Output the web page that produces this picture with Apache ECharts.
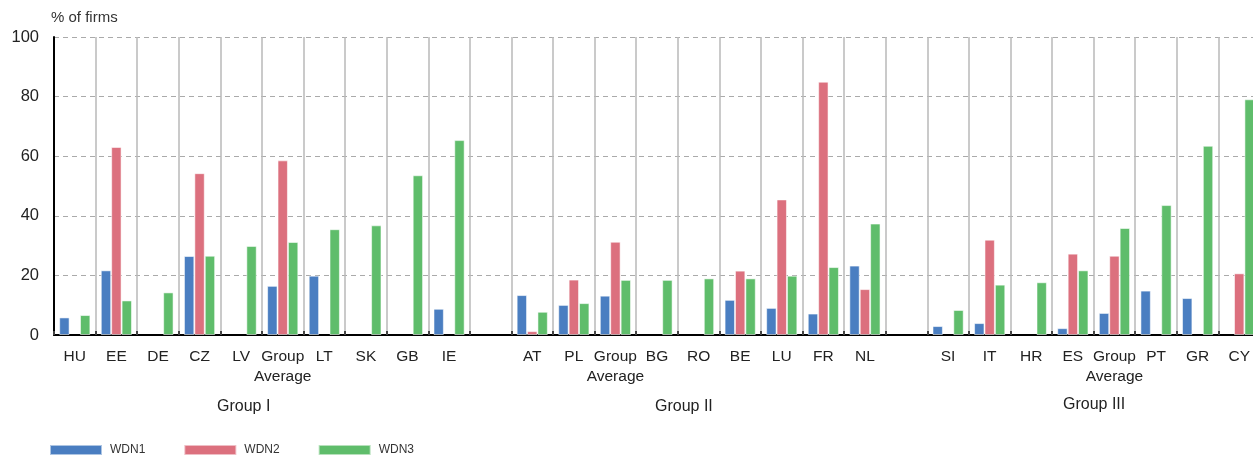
<!DOCTYPE html>
<html>
<head>
<meta charset="utf-8">
<script src="https://cdn.jsdelivr.net/npm/echarts@6/dist/echarts.min.js"></script>
<style>html,body{margin:0;padding:0;background:#fff}#c{width:1253px;height:455px}</style>
</head>
<body>
<div id="c"></div>
<script>
const categories = ['HU','EE','DE','CZ','LV','Group\nAverage','LT','SK','GB','IE','',
  'AT','PL','Group\nAverage','BG','RO','BE','LU','FR','NL','',
  'SI','IT','HR','ES','Group\nAverage','PT','GR','CY'];
const wdn1 = [5.9,21.7,null,26.5,null,16.5,19.9,null,null,8.8,null,
  13.4,10.1,13.2,null,null,11.8,9.1,7.2,23.3,null,
  3.0,4.0,null,2.3,7.4,14.9,12.4,null];
const wdn2 = [null,63.1,null,54.3,null,58.6,null,null,null,null,null,
  1.3,18.6,31.3,null,null,21.6,45.5,85.0,15.4,null,
  null,32.0,null,27.3,26.6,null,null,20.7];
const wdn3 = [6.7,11.6,14.3,26.6,29.9,31.2,35.5,36.8,53.6,65.4,null,
  7.8,10.7,18.5,18.5,19.0,19.0,19.9,22.8,37.4,null,
  8.4,16.9,17.7,21.7,35.9,43.6,63.5,79.1];
const seriesNames = ['WDN1','WDN2','WDN3'];
const groupLabels = ['Group I','Group II','Group III'];
const yTicks = {min:0, max:100, interval:20};

const colors = ['#4a7ec1','#dc707e','#5fbd6b'];
const font = 'Liberation Sans, Arial, sans-serif';
const chart = echarts.init(document.getElementById('c'));
const mkSeries = (name, data, i) => ({
  name, type:'bar', data, barWidth:10.4, barGap:'0%',
  itemStyle:{color:colors[i], borderColor:'rgba(255,255,255,0.55)', borderWidth:1},
  animation:false
});
chart.setOption({
  animation:false,
  color:colors,
  textStyle:{fontFamily:font},
  grid:{left:54, top:37, bottom:120, width:1206, containLabel:false, outerBoundsMode:'none'},
  legend:{
    left:44, top:439, itemWidth:52, itemHeight:10, itemGap:38,
    icon:'rect',
    textStyle:{fontSize:12, color:'#333', fontFamily:font, padding:[0,0,0,3]},
    data:seriesNames
  },
  xAxis:{
    type:'category', data:categories,
    axisLine:{lineStyle:{color:'#000', width:2}},
    axisTick:{show:true, inside:true, length:4, lineStyle:{color:'#444', width:2}},
    axisLabel:{interval:0, fontSize:15.5, color:'#222', margin:12, lineHeight:20, fontFamily:font},
    splitLine:{show:true, lineStyle:{color:'#b8b8b8', width:1.5}}
  },
  yAxis:{
    type:'value', min:yTicks.min, max:yTicks.max, interval:yTicks.interval,
    name:'% of firms', nameLocation:'end', nameGap:12,
    nameTextStyle:{align:'left', fontSize:15, color:'#333', padding:[0,0,0,-3], fontFamily:font},
    axisLine:{show:true, lineStyle:{color:'#000', width:2}},
    axisTick:{show:false},
    axisLabel:{fontSize:16.5, color:'#222', margin:15, fontFamily:font},
    splitLine:{show:true, lineStyle:{color:'#aaa', type:[5,4], width:1.2}}
  },
  graphic:[
    {type:'text', left:217, top:399, style:{text:groupLabels[0], fontSize:16, fill:'#222', fontFamily:font}},
    {type:'text', left:655, top:399, style:{text:groupLabels[1], fontSize:16, fill:'#222', fontFamily:font}},
    {type:'text', left:1063, top:397, style:{text:groupLabels[2], fontSize:16, fill:'#222', fontFamily:font}}
  ],
  series:[mkSeries(seriesNames[0], wdn1, 0), mkSeries(seriesNames[1], wdn2, 1), mkSeries(seriesNames[2], wdn3, 2)]
});
</script>
</body>
</html>
